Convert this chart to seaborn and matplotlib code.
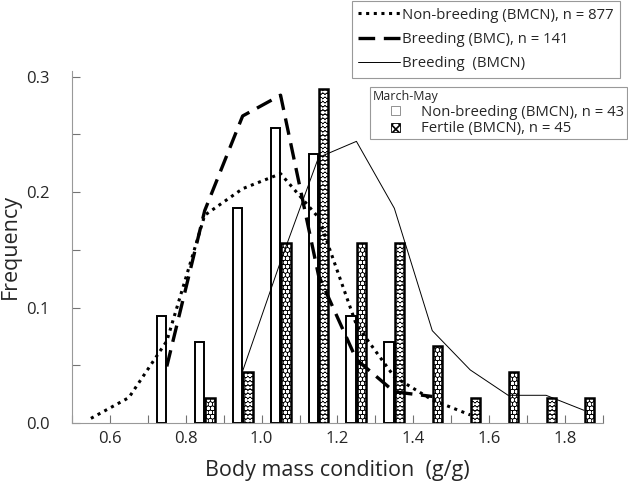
import numpy as np
import pandas as pd
import matplotlib
matplotlib.use('Agg')
import matplotlib.pyplot as plt
from matplotlib.lines import Line2D
from matplotlib.patches import Patch, Rectangle
from matplotlib.legend_handler import HandlerPatch
from matplotlib.ticker import MultipleLocator
import seaborn as sns

# --- data ---
# lines: distribution of body mass condition
nb_x = [0.55, 0.65, 0.75, 0.85, 0.95, 1.05, 1.15, 1.25, 1.35, 1.45, 1.55]
nb_y = [0.004, 0.022, 0.071, 0.180, 0.203, 0.216, 0.178, 0.085, 0.040, 0.020, 0.007]

bmc_x = [0.75, 0.85, 0.95, 1.05, 1.15, 1.25, 1.35, 1.45]
bmc_y = [0.049, 0.184, 0.266, 0.284, 0.128, 0.055, 0.027, 0.023]

br_x = [0.95, 1.05, 1.15, 1.25, 1.35, 1.45, 1.55, 1.65, 1.75, 1.85]
br_y = [0.045, 0.140, 0.230, 0.244, 0.186, 0.080, 0.046, 0.024, 0.024, 0.011]

# bars: March-May
bin_centers = [0.75, 0.85, 0.95, 1.05, 1.15, 1.25, 1.35, 1.45, 1.55, 1.65, 1.75, 1.85]
nonbreed_freq = [0.093, 0.070, 0.186, 0.256, 0.233, 0.093, 0.070, 0, 0, 0, 0, 0]
fertile_freq = [0, 0.022, 0.044, 0.156, 0.289, 0.156, 0.156, 0.067, 0.022, 0.044, 0.022, 0.022]

LBL_NB = 'Non-breeding (BMCN), n = 877'
LBL_BMC = 'Breeding (BMC), n = 141'
LBL_BR = 'Breeding  (BMCN)'
LBL_BAR_NB = 'Non-breeding (BMCN), n = 43'
LBL_BAR_F = 'Fertile (BMCN), n = 45'

DOT = (0, (1.0, 1.5))
DASH = (0, (5, 2.6))


def small_square(legend, orig_handle, xdescent, ydescent, width, height, fontsize):
    # 小さい四角をハンドル枠の中央に置く
    s = height * 0.85
    return Rectangle((-xdescent + width / 2 - s / 2, -ydescent + (height - s) / 2), s, s)


def main():
    sns.set_theme(style='white')
    plt.rcParams['font.family'] = ['Open Sans', 'DejaVu Sans']
    plt.rcParams['hatch.linewidth'] = 1.2

    fig = plt.figure(figsize=(6.28, 4.91), dpi=100)
    ax = fig.add_axes([0.1146, 0.1385, 0.8455, 0.717])

    # ---- bars ----
    df_bar = pd.DataFrame({
        'x': bin_centers * 2,
        'freq': nonbreed_freq + fertile_freq,
        'group': ['nb'] * len(bin_centers) + ['f'] * len(bin_centers),
    })
    df_bar = df_bar[df_bar['freq'] > 0]
    sns.barplot(data=df_bar, x='x', y='freq', hue='group', hue_order=['nb', 'f'],
                native_scale=True, width=0.56, gap=0.12, errorbar=None,
                legend=False, ax=ax)

    # seaborn draws hue levels in order: first nb, then f
    bars = list(ax.patches)
    n_nb = int((df_bar['group'] == 'nb').sum())
    for i, p in enumerate(bars):
        if i < n_nb:
            p.set_facecolor('white')
            p.set_edgecolor('black')
            p.set_linewidth(1.4)
            p.set_zorder(2)
        else:
            p.set_facecolor('black')
            p.set_edgecolor('white')
            p.set_hatch('oooo')
            p.set_linewidth(0)
            p.set_zorder(2)
            ax.add_patch(Rectangle(p.get_xy(), p.get_width(), p.get_height(),
                                   fill=False, edgecolor='black', linewidth=1.8, zorder=3))

    # ---- lines ----
    sns.lineplot(x=nb_x, y=nb_y, color='black', linewidth=2.2, ax=ax, zorder=4)
    ax.lines[-1].set_linestyle(DOT)
    sns.lineplot(x=bmc_x, y=bmc_y, color='black', linewidth=2.4, ax=ax, zorder=4)
    ax.lines[-1].set_linestyle(DASH)
    sns.lineplot(x=br_x, y=br_y, color='black', linewidth=0.7, ax=ax, zorder=4)

    # ---- axes ----
    ax.set_xlim(0.5, 1.9)
    ax.set_ylim(0, 0.305)
    ax.xaxis.set_minor_locator(MultipleLocator(0.1))
    ax.yaxis.set_minor_locator(MultipleLocator(0.05))
    ax.set_xticks([0.6, 0.8, 1.0, 1.2, 1.4, 1.6, 1.8])
    ax.set_xticklabels(['0.6', '0.8', '1.0', '1.2', '1.4', '1.6', '1.8'])
    ax.set_yticks([0.0, 0.1, 0.2, 0.3])
    ax.set_yticklabels(['0.0', '0.1', '0.2', '0.3'])
    ax.tick_params(axis='both', which='both', direction='in', length=6, width=0.8,
                   color='0.45', labelsize=12, bottom=True, left=True)
    ax.tick_params(axis='y', which='both', pad=16)
    ax.tick_params(axis='x', which='both', pad=6)
    for s in ['top', 'right']:
        ax.spines[s].set_visible(False)
    for s in ['left', 'bottom']:
        ax.spines[s].set_color('0.6')
        ax.spines[s].set_linewidth(0.8)

    ax.set_xlabel('Body mass condition  (g/g)', fontsize=15.5, labelpad=9)
    ax.set_ylabel('Frequency', fontsize=15.5, labelpad=4)

    # ---- legends ----
    h1 = [Line2D([], [], color='black', lw=2.2, linestyle=DOT),
          Line2D([], [], color='black', lw=2.4, linestyle=DASH),
          Line2D([], [], color='black', lw=0.7)]
    leg1 = fig.legend(h1, [LBL_NB, LBL_BMC, LBL_BR], loc='upper right',
                      bbox_to_anchor=(0.988, 0.998), fontsize=10.7, frameon=True,
                      fancybox=False, edgecolor='0.5', handlelength=2.8,
                      handletextpad=0.15, borderpad=0.45, labelspacing=0.62,
                      borderaxespad=0)
    leg1.get_frame().set_linewidth(0.8)

    h2 = [Patch(facecolor='white', edgecolor='0.5', linewidth=0.6),
          Patch(facecolor='white', edgecolor='black', hatch='xxxx', linewidth=0.6)]
    leg2 = fig.legend(h2, [LBL_BAR_NB, LBL_BAR_F], loc='upper right',
                      bbox_to_anchor=(0.998, 0.822), fontsize=10.7, frameon=True,
                      fancybox=False, edgecolor='0.5', handlelength=3.1,
                      handleheight=0.7, handletextpad=0.15, borderpad=0.2,
                      labelspacing=0.1, borderaxespad=0, title='March-May',
                      title_fontsize=9, alignment='left',
                      handler_map={Patch: HandlerPatch(patch_func=small_square)})
    leg2.get_frame().set_linewidth(0.8)

    fig.savefig('out.png', dpi=100)


if __name__ == '__main__':
    main()
